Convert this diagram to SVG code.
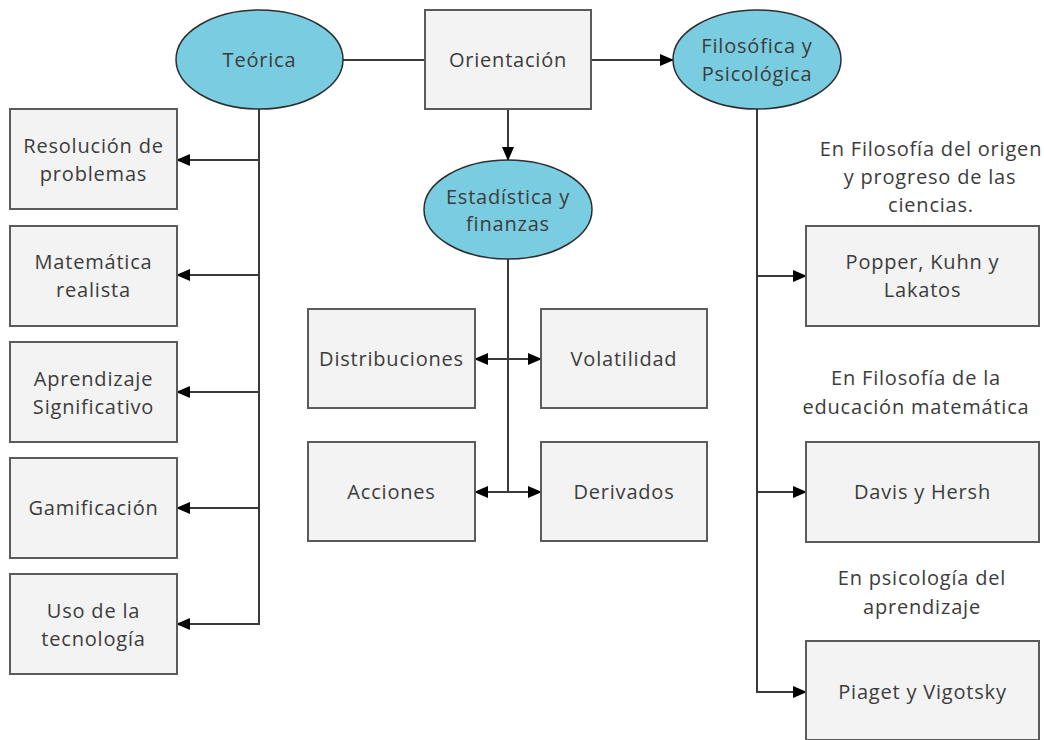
<svg xmlns="http://www.w3.org/2000/svg" width="1044" height="740" viewBox="0 0 1044 740">
  <style>
    .box { fill: #f3f3f3; stroke: #5b5b5b; stroke-width: 2; }
    .oval { fill: #7acde0; stroke: #2e2e2e; stroke-width: 1.5; }
    .lbl { font-family: "Open Sans", "Noto Sans", sans-serif; font-size: 20px; letter-spacing: 0.8px; fill: #3c3c3c; text-anchor: middle; }
    .wire { fill: none; stroke: #3a3a3a; stroke-width: 2; }
    .arrow { marker-end: url(#head); }
  </style>
  <defs>
    <marker id="head" markerUnits="userSpaceOnUse" markerWidth="14" markerHeight="12" refX="13" refY="6" orient="auto">
      <path d="M0,0 L14,6 L0,12 Z" fill="#000"/>
    </marker>
  </defs>

  <rect width="1044" height="740" fill="#fff"/>

  <!-- connectors -->
  <g id="connectors">
    <line class="wire" x1="343" y1="60" x2="425" y2="60"/>
    <line class="wire arrow" x1="591" y1="60" x2="673" y2="60"/>
    <line class="wire arrow" x1="508" y1="109" x2="508" y2="160"/>

    <!-- Teórica branch -->
    <path class="wire arrow" d="M259,109 V160 H177"/>
    <path class="wire arrow" d="M259,160 V275 H177"/>
    <path class="wire arrow" d="M259,275 V392 H177"/>
    <path class="wire arrow" d="M259,392 V508 H177"/>
    <path class="wire arrow" d="M259,508 V624 H177"/>

    <!-- Estadística branch -->
    <line class="wire" x1="508" y1="259" x2="508" y2="492"/>
    <line class="wire arrow" x1="508" y1="359" x2="475" y2="359"/>
    <line class="wire arrow" x1="508" y1="359" x2="541" y2="359"/>
    <line class="wire arrow" x1="508" y1="492" x2="475" y2="492"/>
    <line class="wire arrow" x1="508" y1="492" x2="541" y2="492"/>

    <!-- Filosófica branch -->
    <path class="wire arrow" d="M757,109 V276 H806"/>
    <path class="wire arrow" d="M757,276 V492 H806"/>
    <path class="wire arrow" d="M757,492 V692 H806"/>
  </g>

  <!-- top row -->
  <g id="teorica">
    <ellipse class="oval" cx="259.5" cy="59.5" rx="83.5" ry="49.5"/>
    <text class="lbl" x="259.5" y="67">Teórica</text>
  </g>
  <g id="orientacion">
    <rect class="box" x="425" y="10" width="166" height="99"/>
    <text class="lbl" x="508" y="67">Orientación</text>
  </g>
  <g id="filosofica">
    <ellipse class="oval" cx="757" cy="59.5" rx="84" ry="49.5"/>
    <text class="lbl" x="757" y="53">Filosófica y</text>
    <text class="lbl" x="757" y="81">Psicológica</text>
  </g>

  <!-- Teórica children -->
  <g id="resolucion">
    <rect class="box" x="10" y="109" width="167" height="100"/>
    <text class="lbl" x="93.5" y="153">Resolución de</text>
    <text class="lbl" x="93.5" y="181">problemas</text>
  </g>
  <g id="matematica">
    <rect class="box" x="10" y="226" width="167" height="100"/>
    <text class="lbl" x="93.5" y="269">Matemática</text>
    <text class="lbl" x="93.5" y="297">realista</text>
  </g>
  <g id="aprendizaje">
    <rect class="box" x="10" y="342" width="167" height="100"/>
    <text class="lbl" x="93.5" y="386">Aprendizaje</text>
    <text class="lbl" x="93.5" y="414">Significativo</text>
  </g>
  <g id="gamificacion">
    <rect class="box" x="10" y="458" width="167" height="100"/>
    <text class="lbl" x="93.5" y="515">Gamificación</text>
  </g>
  <g id="tecnologia">
    <rect class="box" x="10" y="574" width="167" height="100"/>
    <text class="lbl" x="93.5" y="618">Uso de la</text>
    <text class="lbl" x="93.5" y="646">tecnología</text>
  </g>

  <!-- Estadística and children -->
  <g id="estadistica">
    <ellipse class="oval" cx="508" cy="209.5" rx="84" ry="49.5"/>
    <text class="lbl" x="508" y="204">Estadística y</text>
    <text class="lbl" x="508" y="231">finanzas</text>
  </g>
  <g id="distribuciones">
    <rect class="box" x="308" y="309" width="167" height="99"/>
    <text class="lbl" x="391.5" y="366">Distribuciones</text>
  </g>
  <g id="volatilidad">
    <rect class="box" x="541" y="309" width="166" height="99"/>
    <text class="lbl" x="624" y="366">Volatilidad</text>
  </g>
  <g id="acciones">
    <rect class="box" x="308" y="442" width="167" height="99"/>
    <text class="lbl" x="391.5" y="499">Acciones</text>
  </g>
  <g id="derivados">
    <rect class="box" x="541" y="442" width="166" height="99"/>
    <text class="lbl" x="624" y="499">Derivados</text>
  </g>

  <!-- Filosófica children -->
  <g id="nota-origen">
    <text class="lbl" x="931" y="156">En Filosofía del origen</text>
    <text class="lbl" x="930" y="184">y progreso de las</text>
    <text class="lbl" x="931" y="212">ciencias.</text>
  </g>
  <g id="popper">
    <rect class="box" x="806" y="226" width="233" height="100"/>
    <text class="lbl" x="922.5" y="269">Popper, Kuhn y</text>
    <text class="lbl" x="922.5" y="297">Lakatos</text>
  </g>
  <g id="nota-educacion">
    <text class="lbl" x="916" y="385">En Filosofía de la</text>
    <text class="lbl" x="916" y="414">educación matemática</text>
  </g>
  <g id="davis">
    <rect class="box" x="806" y="442" width="233" height="100"/>
    <text class="lbl" x="922.5" y="499">Davis y Hersh</text>
  </g>
  <g id="nota-psicologia">
    <text class="lbl" x="922" y="585">En psicología del</text>
    <text class="lbl" x="922" y="614">aprendizaje</text>
  </g>
  <g id="piaget">
    <rect class="box" x="806" y="641" width="233" height="99"/>
    <text class="lbl" x="922.5" y="699">Piaget y Vigotsky</text>
  </g>
</svg>
